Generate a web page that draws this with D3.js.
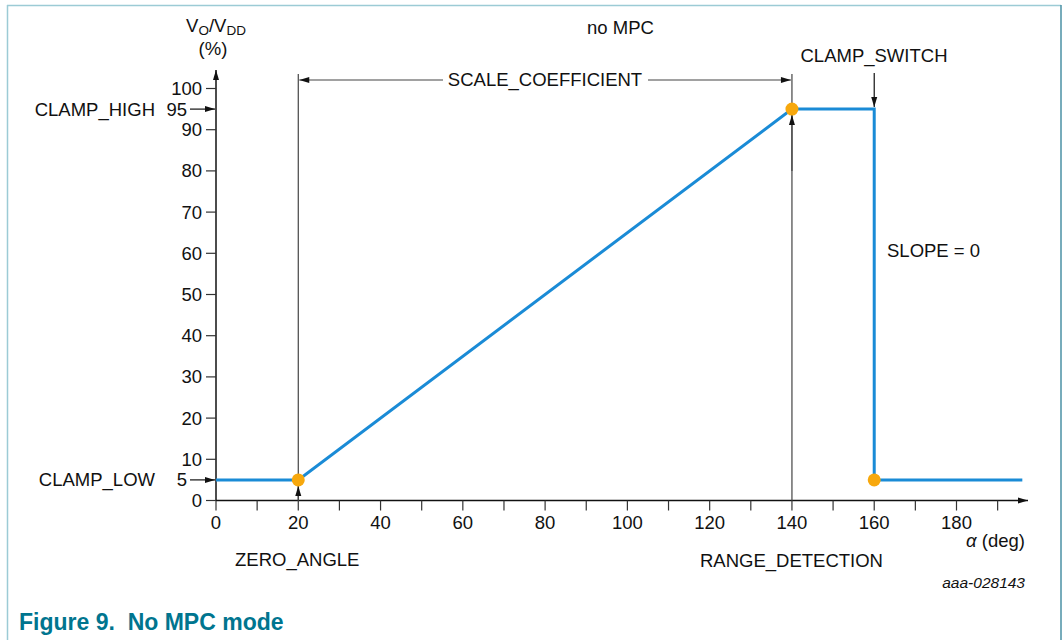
<!DOCTYPE html>
<html>
<head>
<meta charset="utf-8">
<script src="https://cdn.jsdelivr.net/npm/d3@7"></script>
<style>
  body { margin: 0; background: #fff; }
  text { font-family: "Liberation Sans", Arial, sans-serif; fill: #111; }
</style>
</head>
<body>
<div id="chart"></div>
<script>
// transfer curve, no MPC mode
const angles = [0, 20, 140, 160, 160, 196];
const outputs = [5, 5, 95, 95, 5, 5];
const markerAngles = [20, 140, 160];
const markerOutputs = [5, 95, 5];
const xTicks = [0, 10, 20, 30, 40, 50, 60, 70, 80, 90, 100, 110, 120, 130, 140, 150, 160, 170, 180, 190];
const xLabels = [0, 20, 40, 60, 80, 100, 120, 140, 160, 180];
const yTicks = [0, 10, 20, 30, 40, 50, 60, 70, 80, 90, 100];

const width = 1063, height = 640;
const fs = 18.5;
const blue = '#1a8bd6', orange = '#f7a80d', guide = '#444';

const svg = d3.select('#chart').append('svg')
  .attr('width', width)
  .attr('height', height);

const defs = svg.append('defs');
defs.append('marker')
  .attr('id', 'arr')
  .attr('viewBox', '0 0 10 10')
  .attr('refX', 10).attr('refY', 5)
  .attr('markerWidth', 11).attr('markerHeight', 10)
  .attr('markerUnits', 'userSpaceOnUse')
  .attr('orient', 'auto-start-reverse')
  .append('path')
  .attr('d', 'M0,2 L10,5 L0,8 Z')
  .attr('fill', '#111');

// frame
svg.append('line').attr('x1', 7.5).attr('y1', 5).attr('x2', 7.5).attr('y2', height)
  .attr('stroke', '#9ccbd5').attr('stroke-width', 1.5);
svg.append('line').attr('x1', 7).attr('y1', 5.5).attr('x2', 1061).attr('y2', 5.5)
  .attr('stroke', '#9ccbd5').attr('stroke-width', 1.5);
svg.append('line').attr('x1', 1061).attr('y1', 5).attr('x2', 1061).attr('y2', height)
  .attr('stroke', '#4a90a4').attr('stroke-width', 1.5);

const x = d3.scaleLinear().domain([0, 180]).range([216, 956.5]);
const y = d3.scaleLinear().domain([0, 100]).range([500.5, 88.5]);

// x axis
svg.append('line')
  .attr('x1', x(0)).attr('y1', y(0)).attr('x2', 1028).attr('y2', y(0))
  .attr('stroke', '#111').attr('stroke-width', 1.5)
  .attr('marker-end', 'url(#arr)');
svg.append('g').selectAll('line').data(xTicks).join('line')
  .attr('x1', d => x(d)).attr('x2', d => x(d))
  .attr('y1', y(0)).attr('y2', y(0) + 10)
  .attr('stroke', '#333').attr('stroke-width', 1.2);
svg.append('g').selectAll('text').data(xLabels).join('text')
  .attr('x', d => x(d)).attr('y', 529)
  .attr('text-anchor', 'middle').attr('font-size', fs)
  .text(d => d);

// y axis
svg.append('line')
  .attr('x1', x(0)).attr('y1', y(0)).attr('x2', x(0)).attr('y2', 70)
  .attr('stroke', '#111').attr('stroke-width', 1.5)
  .attr('marker-end', 'url(#arr)');
svg.append('g').selectAll('line').data(yTicks).join('line')
  .attr('x1', x(0) - 10).attr('x2', x(0))
  .attr('y1', d => y(d)).attr('y2', d => y(d))
  .attr('stroke', '#333').attr('stroke-width', 1.2);
svg.append('g').selectAll('text').data(yTicks).join('text')
  .attr('x', 202).attr('y', d => y(d) + 6.5)
  .attr('text-anchor', 'end').attr('font-size', fs)
  .text(d => d);

// clamp levels on y axis
const clamps = [{ v: 95, name: 'CLAMP_HIGH' }, { v: 5, name: 'CLAMP_LOW' }];
clamps.forEach(c => {
  svg.append('line')
    .attr('x1', 190).attr('x2', x(0) - 1)
    .attr('y1', y(c.v)).attr('y2', y(c.v))
    .attr('stroke', '#111').attr('stroke-width', 1.2)
    .attr('marker-end', 'url(#arr)');
  svg.append('text')
    .attr('x', 187).attr('y', y(c.v) + 6.5)
    .attr('text-anchor', 'end').attr('font-size', fs)
    .text(c.v);
  svg.append('text')
    .attr('x', 155).attr('y', y(c.v) + 6.5)
    .attr('text-anchor', 'end').attr('font-size', fs)
    .text(c.name);
});

// guide lines
[20, 140].forEach(a => {
  svg.append('line')
    .attr('x1', x(a)).attr('x2', x(a))
    .attr('y1', 74).attr('y2', y(0))
    .attr('stroke', guide).attr('stroke-width', 1.2);
});
// arrows pointing up into markers
svg.append('line')
  .attr('x1', x(20)).attr('x2', x(20)).attr('y1', y(0)).attr('y2', y(5) + 6)
  .attr('stroke', guide).attr('stroke-width', 1.2).attr('marker-end', 'url(#arr)');
svg.append('line')
  .attr('x1', x(140)).attr('x2', x(140)).attr('y1', y(80)).attr('y2', y(95) + 6)
  .attr('stroke', guide).attr('stroke-width', 1.2).attr('marker-end', 'url(#arr)');

// SCALE_COEFFICIENT dimension
svg.append('line')
  .attr('x1', x(20) + 1).attr('x2', x(140) - 1)
  .attr('y1', 80).attr('y2', 80)
  .attr('stroke', guide).attr('stroke-width', 1.2)
  .attr('marker-start', 'url(#arr)').attr('marker-end', 'url(#arr)');
svg.append('rect').attr('x', 443).attr('y', 69).attr('width', 205).attr('height', 22).attr('fill', '#fff');
svg.append('text')
  .attr('x', 545).attr('y', 86).attr('text-anchor', 'middle').attr('font-size', fs)
  .text('SCALE_COEFFICIENT');

// CLAMP_SWITCH arrow
svg.append('line')
  .attr('x1', x(160)).attr('x2', x(160)).attr('y1', 73).attr('y2', y(95) - 2)
  .attr('stroke', '#111').attr('stroke-width', 1.2).attr('marker-end', 'url(#arr)');

// curve
const line = d3.line().x((d, i) => x(angles[i])).y((d, i) => y(outputs[i]));
svg.append('path')
  .attr('d', line(angles))
  .attr('fill', 'none').attr('stroke', blue).attr('stroke-width', 3);

svg.append('g').selectAll('circle').data(markerAngles).join('circle')
  .attr('cx', d => x(d)).attr('cy', (d, i) => y(markerOutputs[i]))
  .attr('r', 6.5).attr('fill', orange);

// labels
svg.append('text').attr('x', 587).attr('y', 34)
  .attr('font-size', fs).text('no MPC');
svg.append('text').attr('x', 874).attr('y', 62).attr('text-anchor', 'middle')
  .attr('font-size', fs).text('CLAMP_SWITCH');
svg.append('text').attr('x', 887).attr('y', 257).attr('font-size', fs).text('SLOPE = 0');
svg.append('text').attr('x', 235).attr('y', 566).attr('font-size', fs).text('ZERO_ANGLE');
svg.append('text').attr('x', 700).attr('y', 567).attr('font-size', fs).text('RANGE_DETECTION');

const yl = svg.append('text').attr('x', 216).attr('y', 32).attr('text-anchor', 'middle').attr('font-size', fs);
yl.append('tspan').text('V');
yl.append('tspan').attr('font-size', 13.5).attr('dy', 3).text('O');
yl.append('tspan').attr('dy', -3).text('/V');
yl.append('tspan').attr('font-size', 13.5).attr('dy', 3).text('DD');
svg.append('text').attr('x', 213).attr('y', 55).attr('text-anchor', 'middle')
  .attr('font-size', fs).text('(%)');

const xl = svg.append('text').attr('x', 1025).attr('y', 547).attr('text-anchor', 'end').attr('font-size', fs);
xl.append('tspan').attr('font-style', 'italic').text('α');
xl.append('tspan').text(' (deg)');

svg.append('text').attr('x', 1025).attr('y', 588).attr('text-anchor', 'end')
  .attr('font-size', 15.5).attr('font-style', 'italic').text('aaa-028143');

svg.append('text').attr('x', 19).attr('y', 630)
  .attr('font-size', 23).attr('font-weight', 'bold')
  .style('fill', '#00758f')
  .attr('xml:space', 'preserve')
  .text('Figure 9.  No MPC mode');
</script>
</body>
</html>
